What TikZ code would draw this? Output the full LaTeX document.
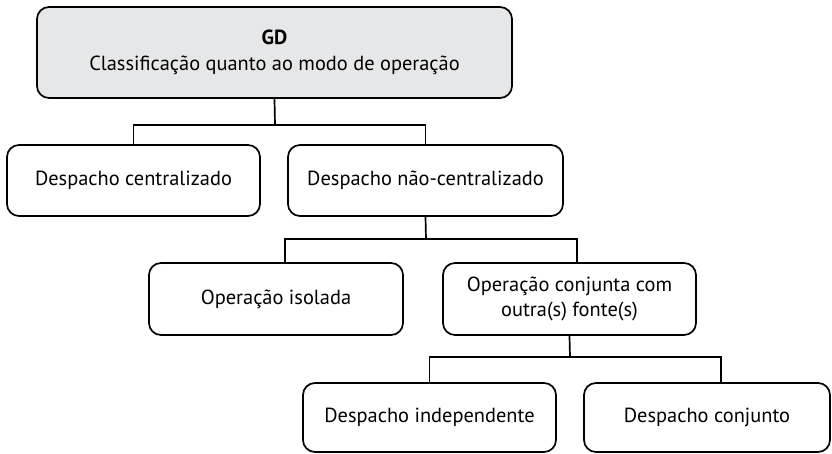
\documentclass[tikz,border=0pt]{standalone}
\usepackage{fontspec}
\setmainfont{PT Sans}
\definecolor{headgray}{HTML}{E6E7E8}
\tikzset{
  box/.style={draw, line width=0.85pt, rounded corners=6pt, align=center,
    minimum height=35.5pt, inner sep=2pt, font=\fontsize{10.2}{12.5}\selectfont},
  headbox/.style={box, fill=headgray, minimum height=45.5pt, font=\fontsize{10.2}{13}\selectfont},
  link/.style={line width=0.85pt}
}
\begin{document}
\begin{tikzpicture}[x=0.5pt,y=-0.5pt]
\useasboundingbox (0,0) rectangle (832,454);
\node[headbox, minimum width=237.5pt] (gd) at (274.5,52.5) {\textbf{GD}\\Classificação quanto ao modo de operação};
\node[box, minimum width=126.5pt] (central) at (133.5,180.5) {Despacho centralizado};
\node[box, minimum width=137.5pt] (naocentral) at (425.5,180.5) {Despacho não-centralizado};
\node[box, minimum width=127pt, minimum height=36pt] (isolada) at (276,299) {Operação isolada};
\node[box, minimum width=126.5pt, minimum height=36pt] (conjunta) at (569.5,299) {Operação conjunta com\\outra(s) fonte(s)};
\node[box, minimum width=126.5pt, minimum height=34.5pt] (indep) at (429.5,417.5) {Despacho independente};
\node[box, minimum width=123pt, minimum height=34.5pt] (despconj) at (707,417.5) {Despacho conjunto};
\coordinate (bus1) at (275,125);
\coordinate (bus2) at (426,239);
\coordinate (bus3) at (570,357);
\draw[link] (gd.south) -- (bus1);
\draw[link] (central.north) |- (bus1) -| (naocentral.north);
\draw[link] (naocentral.south) -- (bus2);
\draw[link] ([xshift=4.5pt]isolada.north) |- (bus2) -| ([xshift=3.75pt]conjunta.north);
\draw[link] (conjunta.south) -- (bus3);
\draw[link] (indep.north) |- (bus3) -| ([xshift=7pt]despconj.north);
\end{tikzpicture}
\end{document}
